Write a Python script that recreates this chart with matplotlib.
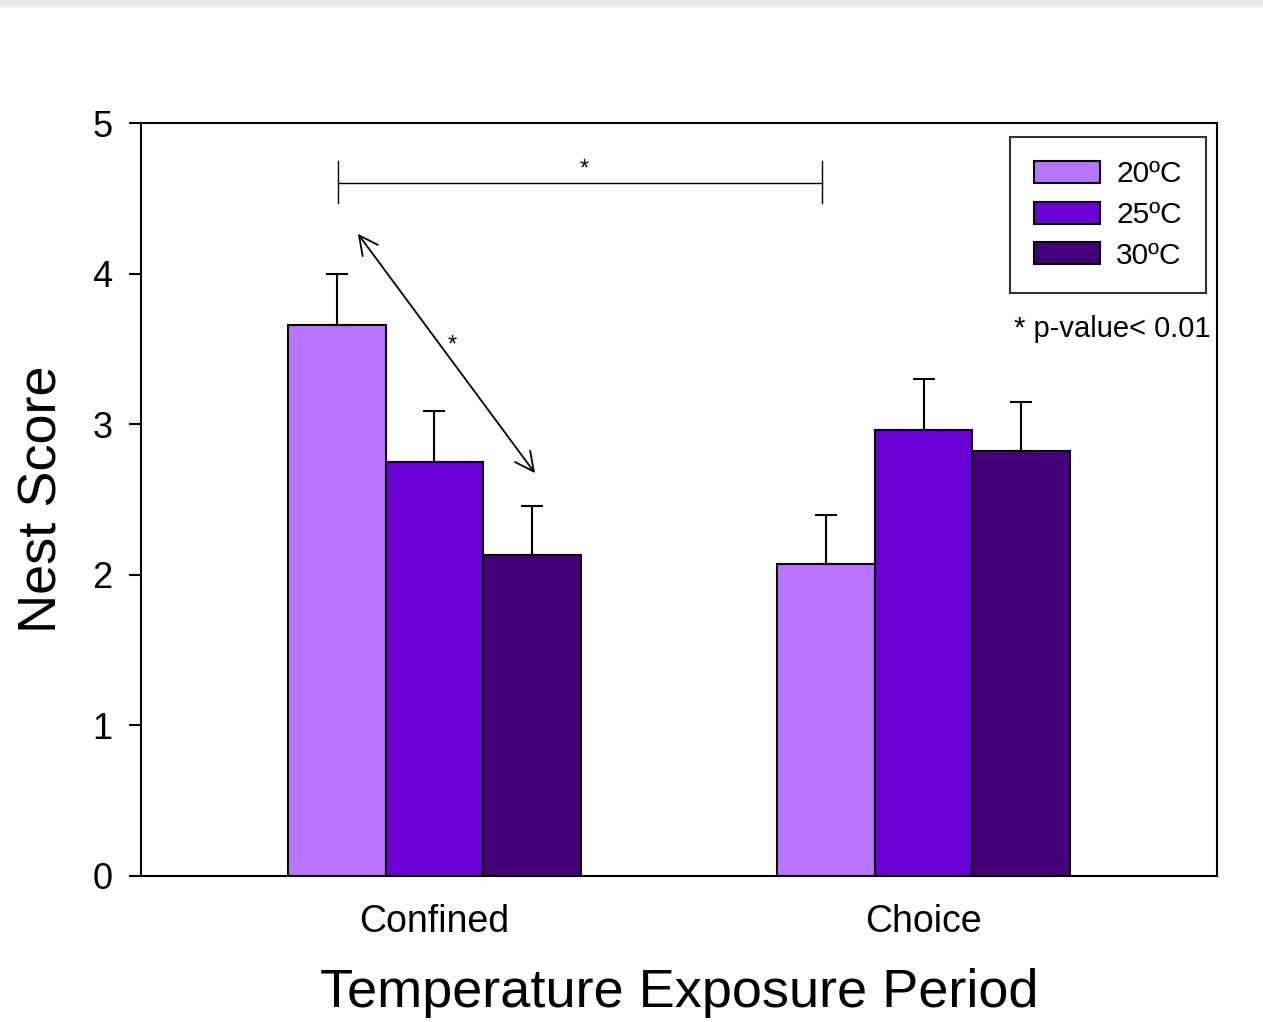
import numpy as np
import matplotlib.pyplot as plt
from matplotlib.patches import Rectangle

plt.rcParams["font.family"] = ["Liberation Sans", "DejaVu Sans"]

# Data
periods = ["Confined", "Choice"]
temps = ["20ºC", "25ºC", "30ºC"]
means = {
    "20ºC": [3.66, 2.07],
    "25ºC": [2.75, 2.96],
    "30ºC": [2.13, 2.82],
}
errors = {
    "20ºC": [0.34, 0.33],
    "25ºC": [0.34, 0.34],
    "30ºC": [0.33, 0.33],
}
colors = ["#B875FF", "#6A00D6", "#430078"]

fig = plt.figure(figsize=(12.63, 10.22), dpi=100)
ax = fig.add_axes([0.1116, 0.1429, 0.852, 0.7367])

# thin grey band at the very top (screenshot edge)
fig.patches.append(Rectangle((0, 0.994), 1, 0.006, transform=fig.transFigure,
                             color="#ebebeb", zorder=0))

x = np.arange(len(periods))
width = 0.2
for i, t in enumerate(temps):
    pos = x + (i - 1) * width
    ax.bar(pos, means[t], width, color=colors[i], edgecolor="black",
           linewidth=1.5, label=t, zorder=2)
    ax.errorbar(pos, means[t], yerr=[np.zeros(len(periods)), errors[t]],
                fmt="none", ecolor="black", elinewidth=1.5, capsize=8,
                capthick=1.5, zorder=3)

# significance bracket between groups
ax.plot([-0.198, 0.793], [4.60, 4.60], color="black", lw=1)
ax.plot([-0.198, -0.198], [4.47, 4.75], color="black", lw=1)
ax.plot([0.793, 0.793], [4.47, 4.75], color="black", lw=1)
ax.text(0.307, 4.62, "*", ha="center", va="bottom", fontsize=17)

# double arrow inside the Confined group
ax.annotate("", xy=(-0.16, 4.28), xytext=(0.209, 2.66),
            arrowprops=dict(arrowstyle="<->", color="black", lw=1.3,
                            mutation_scale=34))
ax.text(0.037, 3.45, "*", ha="center", va="bottom", fontsize=17)

ax.set_xlim(-0.6, 1.6)
ax.set_ylim(0, 5)
ax.set_xticks(x)
ax.set_xticklabels(periods)
ax.set_yticks(range(6))
ax.tick_params(axis="x", length=0, pad=20, labelsize=27)
ax.tick_params(axis="y", direction="out", length=8.5, width=1.5, pad=12, labelsize=26)
for s in ax.spines.values():
    s.set_linewidth(1.5)

ax.set_xlabel("Temperature Exposure Period", fontsize=39, labelpad=20)
ax.set_ylabel("Nest Score", fontsize=39, labelpad=18)

leg = ax.legend(loc="upper right", bbox_to_anchor=(0.9895, 0.982), fontsize=21.5,
                frameon=True, fancybox=False, edgecolor="black",
                handlelength=2.2, handleheight=0.75, borderpad=0.8,
                labelspacing=0.42, handletextpad=0.55, borderaxespad=0)
leg.get_frame().set_linewidth(1.5)

ax.text(0.9935, 0.726, "* p-value< 0.01", transform=ax.transAxes,
        ha="right", va="center", fontsize=21)

fig.savefig("out.png", dpi=100)
